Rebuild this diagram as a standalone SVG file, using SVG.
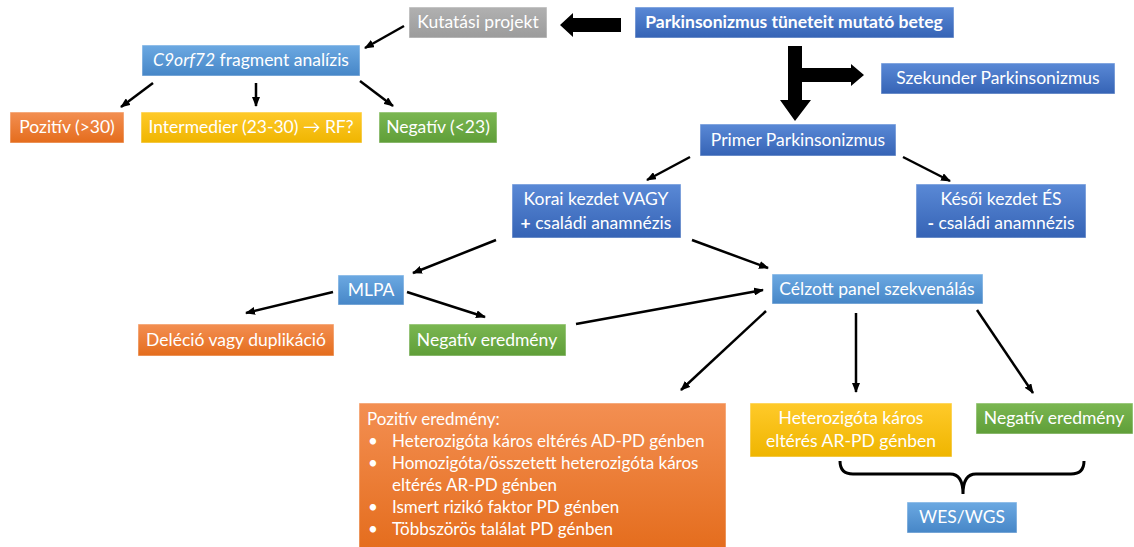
<svg xmlns="http://www.w3.org/2000/svg" width="1134" height="547" viewBox="0 0 1134 547">
<defs>
<linearGradient id="gDark" x1="0" y1="0" x2="0" y2="1"><stop offset="0" stop-color="#5a89d6"/><stop offset="1" stop-color="#3563b5"/></linearGradient>
<linearGradient id="gLight" x1="0" y1="0" x2="0" y2="1"><stop offset="0" stop-color="#6ca9e2"/><stop offset="1" stop-color="#4686c7"/></linearGradient>
<linearGradient id="gOrange" x1="0" y1="0" x2="0" y2="1"><stop offset="0" stop-color="#f38f52"/><stop offset="1" stop-color="#e46c1c"/></linearGradient>
<linearGradient id="gYellow" x1="0" y1="0" x2="0" y2="1"><stop offset="0" stop-color="#ffca2a"/><stop offset="1" stop-color="#efb500"/></linearGradient>
<linearGradient id="gGreen" x1="0" y1="0" x2="0" y2="1"><stop offset="0" stop-color="#7bb752"/><stop offset="1" stop-color="#5f9e38"/></linearGradient>
<linearGradient id="gGray" x1="0" y1="0" x2="0" y2="1"><stop offset="0" stop-color="#b1b1b1"/><stop offset="1" stop-color="#9b9b9b"/></linearGradient>
<marker id="ah" markerWidth="10" markerHeight="8" refX="9" refY="4" orient="auto" markerUnits="userSpaceOnUse"><path d="M0,0 L10,4 L0,8 Z" fill="#000"/></marker>
<style>
.box{stroke:#ffffff;stroke-opacity:0.5;stroke-width:1}
.dark{fill:url(#gDark)}.light{fill:url(#gLight)}.orange{fill:url(#gOrange)}.yellow{fill:url(#gYellow)}.green{fill:url(#gGreen)}.gray{fill:url(#gGray)}
.t{font-family:Lato,"Liberation Sans",sans-serif;font-size:17.5px;fill:#ffffff;text-anchor:middle}
.tl{font-family:Lato,"Liberation Sans",sans-serif;font-size:17px;fill:#ffffff}
.conn line{stroke:#000;stroke-width:2.5;marker-end:url(#ah)}
</style>
</defs>
<rect width="1134" height="547" fill="#ffffff"/>

<g id="kutatasi"><rect class="box gray" x="409" y="7" width="138" height="31"/><text class="t" x="478" y="28">Kutatási projekt</text></g>
<g id="beteg"><rect class="box dark" x="635" y="7" width="319" height="31"/><text class="t" x="794" y="28" font-weight="bold" font-size="17.3px">Parkinsonizmus tüneteit mutató beteg</text></g>
<g id="c9orf72"><rect class="box light" x="142" y="45" width="218" height="31"/><text class="t" x="251" y="66"><tspan font-style="italic">C9orf72</tspan> fragment analízis</text></g>
<g id="szekunder"><rect class="box dark" x="881" y="63" width="234" height="31"/><text class="t" x="998" y="84">Szekunder Parkinsonizmus</text></g>
<g id="pozitiv30"><rect class="box orange" x="10" y="112" width="114" height="31"/><text class="t" x="67" y="133">Pozitív (&gt;30)</text></g>
<g id="intermedier"><rect class="box yellow" x="141" y="112" width="221" height="31"/><text class="t" x="251" y="133">Intermedier (23-30) → RF?</text></g>
<g id="negativ23"><rect class="box green" x="379" y="112" width="118" height="31"/><text class="t" x="438" y="133">Negatív (&lt;23)</text></g>
<g id="primer"><rect class="box dark" x="700" y="124" width="196" height="32"/><text class="t" x="798" y="146">Primer Parkinsonizmus</text></g>
<g id="korai"><rect class="box dark" x="512" y="184" width="169" height="54"/><text class="t" x="596" y="205">Korai kezdet VAGY</text><text class="t" x="596" y="229"><tspan font-weight="bold">+</tspan> családi anamnézis</text></g>
<g id="kesoi"><rect class="box dark" x="916" y="184" width="170" height="54"/><text class="t" x="1001" y="205">Késői kezdet ÉS</text><text class="t" x="1001" y="229"><tspan font-weight="bold">-</tspan> családi anamnézis</text></g>
<g id="mlpa"><rect class="box light" x="338" y="275" width="66" height="30"/><text class="t" x="371" y="296">MLPA</text></g>
<g id="celzott"><rect class="box light" x="772" y="274" width="211" height="30"/><text class="t" x="877" y="295">Célzott panel szekvenálás</text></g>
<g id="delecio"><rect class="box orange" x="138" y="324" width="196" height="32"/><text class="t" x="236" y="346">Deléció vagy duplikáció</text></g>
<g id="negativ-mid"><rect class="box green" x="409" y="324" width="157" height="32"/><text class="t" x="487" y="346">Negatív eredmény</text></g>
<g id="pozitiv-eredmeny"><rect class="box orange" x="359" y="403" width="367" height="150"/>
<text class="tl" x="367" y="425">Pozitív eredmény:</text>
<text class="tl" x="368" y="447" font-size="14px">•</text><text class="tl" x="392" y="447">Heterozigóta káros eltérés AD-PD génben</text>
<text class="tl" x="368" y="469" font-size="14px">•</text><text class="tl" x="392" y="469">Homozigóta/összetett heterozigóta káros</text>
<text class="tl" x="392" y="491">eltérés AR-PD génben</text>
<text class="tl" x="368" y="513" font-size="14px">•</text><text class="tl" x="392" y="513">Ismert rizikó faktor PD génben</text>
<text class="tl" x="368" y="535" font-size="14px">•</text><text class="tl" x="392" y="535">Többszörös találat PD génben</text>
</g>
<g id="heterozigota"><rect class="box yellow" x="750" y="403" width="202" height="54"/><text class="t" x="851" y="424">Heterozigóta káros</text><text class="t" x="851" y="447">eltérés AR-PD génben</text></g>
<g id="negativ-right"><rect class="box green" x="976" y="403" width="157" height="31"/><text class="t" x="1054" y="424">Negatív eredmény</text></g>
<g id="wes"><rect class="box light" x="907" y="502" width="110" height="31"/><text class="t" x="962" y="523">WES/WGS</text></g>

<g id="connectors" class="conn">
<polygon points="560,25 573,13 573,18 621,18 621,32 573,32 573,37" fill="#000"/>
<polygon points="788,46 802,46 802,68 851,68 851,64 864,75 851,86 851,82 802,82 802,100 811,100 795,121 780,100 788,100" fill="#000"/>
<line x1="404" y1="26" x2="365" y2="48"/>
<line x1="153" y1="83" x2="121" y2="107"/>
<line x1="256" y1="83" x2="256" y2="106"/>
<line x1="360" y1="81" x2="393" y2="106"/>
<line x1="690" y1="157" x2="647" y2="180"/>
<line x1="903" y1="157" x2="950" y2="181"/>
<line x1="496" y1="240" x2="413" y2="273"/>
<line x1="692" y1="240" x2="768" y2="268"/>
<line x1="333" y1="292" x2="246" y2="313"/>
<line x1="407" y1="292" x2="485" y2="317"/>
<line x1="576" y1="324" x2="763" y2="290"/>
<line x1="766" y1="311" x2="681" y2="390"/>
<line x1="856" y1="313" x2="856" y2="392"/>
<line x1="977" y1="310" x2="1033" y2="393"/>
<path d="M840,461 Q840,474 853,474 L950,474 Q963,474 963,494 Q963,474 976,474 L1071,474 Q1084,474 1084,461" fill="none" stroke="#000" stroke-width="3"/>
</g>
</svg>
